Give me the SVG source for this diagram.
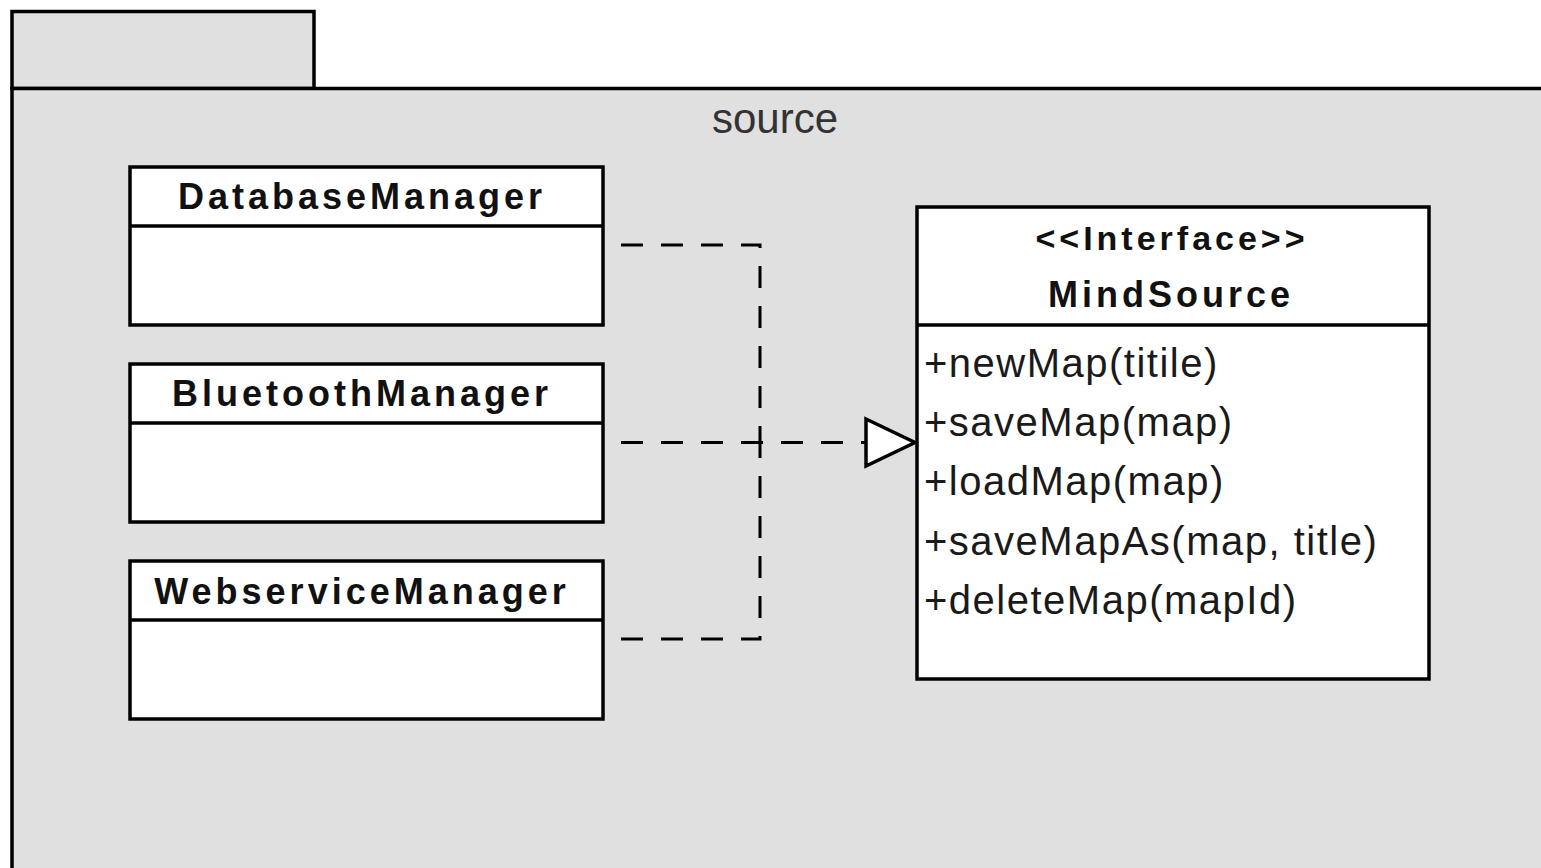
<svg xmlns="http://www.w3.org/2000/svg" width="1541" height="868" viewBox="0 0 1541 868">
  <style>
    .pkg { fill: #e0e0e0; stroke: #000; stroke-width: 3.5; }
    .box { fill: #fff; stroke: #000; stroke-width: 3.5; }
    .sep { stroke: #000; stroke-width: 3.5; }
    .title { font-family: "Liberation Sans", Arial, sans-serif; font-weight: bold; font-size: 36px; letter-spacing: 4px; fill: #111; text-anchor: middle; }
    .stereo { font-family: "Liberation Sans", Arial, sans-serif; font-weight: bold; font-size: 34px; letter-spacing: 4px; fill: #111; text-anchor: middle; }
    .op { font-family: "Liberation Sans", Arial, sans-serif; font-size: 40px; letter-spacing: 1.5px; fill: #1a1a1a; }
    .pkgname { font-family: "Liberation Sans", Arial, sans-serif; font-size: 42px; fill: #333; text-anchor: middle; }
    .dash { fill: none; stroke: #000; stroke-width: 3; stroke-dasharray: 22 18; stroke-dashoffset: 22; }
    .head { fill: #fff; stroke: #000; stroke-width: 3.5; stroke-linejoin: miter; }
  </style>

  <rect width="1541" height="868" fill="#fff"/>

  <!-- package "source": tab plus body running off the right and bottom edges -->
  <g id="package-source">
    <rect class="pkg" x="12" y="11.5" width="302" height="77"/>
    <rect class="pkg" x="12" y="88.5" width="1620" height="880"/>
    <text class="pkgname" x="775" y="133">source</text>
  </g>

  <g id="DatabaseManager">
    <rect class="box" x="130" y="167" width="473" height="158"/>
    <line class="sep" x1="130" y1="226" x2="603" y2="226"/>
    <text class="title" x="362" y="209">DatabaseManager</text>
  </g>

  <g id="BluetoothManager">
    <rect class="box" x="130" y="364" width="473" height="158"/>
    <line class="sep" x1="130" y1="423" x2="603" y2="423"/>
    <text class="title" x="362" y="406">BluetoothManager</text>
  </g>

  <g id="WebserviceManager">
    <rect class="box" x="130" y="561" width="473" height="158"/>
    <line class="sep" x1="130" y1="620" x2="603" y2="620"/>
    <text class="title" x="362" y="604">WebserviceManager</text>
  </g>

  <g id="MindSource">
    <rect class="box" x="917" y="207" width="512" height="472"/>
    <line class="sep" x1="917" y1="325" x2="1429" y2="325"/>
    <text class="stereo" x="1172" y="250">&lt;&lt;Interface&gt;&gt;</text>
    <text class="title" x="1171" y="307">MindSource</text>
    <text class="op" x="924" y="377">+newMap(titile)</text>
    <text class="op" x="924" y="436">+saveMap(map)</text>
    <text class="op" x="924" y="495">+loadMap(map)</text>
    <text class="op" x="924" y="555">+saveMapAs(map, title)</text>
    <text class="op" x="924" y="614">+deleteMap(mapId)</text>
  </g>

  <!-- realization connectors merging into one hollow-headed arrow -->
  <g id="connectors">
    <path class="dash" d="M603 245 H760 V442"/>
    <path class="dash" d="M603 639 H760 V442"/>
    <path class="dash" d="M603 442.5 H866"/>
    <polygon class="head" points="866,419 915,442.5 866,466"/>
  </g>
</svg>
